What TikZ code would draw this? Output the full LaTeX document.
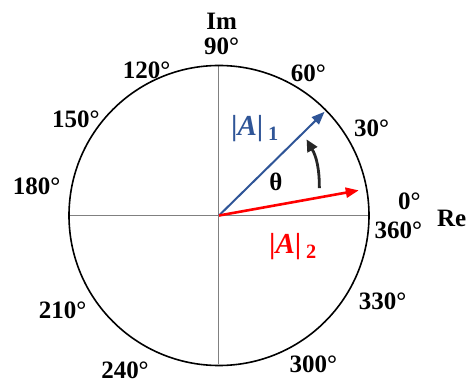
\documentclass[tikz,border=0pt]{standalone}
\usepackage{fontspec}
\setmainfont{Liberation Serif}
\usetikzlibrary{positioning,arrows.meta}
\definecolor{phasorblue}{RGB}{47,85,151}
\definecolor{axisgray}{RGB}{128,128,128}
\tikzset{deg/.style={font=\fontsize{25}{28}\selectfont\bfseries,inner sep=0pt},
mag/.style={font=\fontsize{29}{31}\selectfont\bfseries,inner sep=0pt},
axis/.style={draw=axisgray,line width=1pt},
arr/.style={-{Triangle[length=13pt,width=10pt]}}}

\begin{document}
\begin{tikzpicture}[x=1pt,y=1pt]
\useasboundingbox (-219,-169.5) rectangle (247,215.5);
\coordinate (O) at (0,0);
\coordinate (west) at (180:150);
\coordinate (east) at (0:150);
\coordinate (north) at (90:149);
\coordinate (south) at (270:149);
\draw[axis] (west) -- (east);
\draw[axis] (north) -- (south);
\draw[line width=1.6pt] (O) circle (150);
\coordinate (tip1) at (44.5:148);
\coordinate (tip2) at (10.2:142);
\coordinate (tstart) at (15.2:104);
\coordinate (tend) at (41:116);
\draw[arr,phasorblue,line width=2pt] (O) -- (tip1);
\draw[arr,red,line width=2.6pt] (O) -- (tip2);
\draw[-{Triangle[length=12pt,width=11pt]},black!85,line width=2.8pt] (tstart) to[bend right=15] (tend);
\node[deg] (theta) at (57,34) {θ};
\node[mag,text=phasorblue] (A1) at (36,87) {|\textit{A}|\,\textsubscript{1}};
\node[mag,text=red] (A2) at (74,-31) {|\textit{A}|\,\textsubscript{2}};
% angle labels
\node[deg] (im) at (2.7,193.8) {Im};
\node[deg] (re) at (232.7,-2.8) {Re};
\node[deg] (d90) at (2.7,168.8) {90°};
\node[deg] (d120) at (-72.3,145.5) {120°};
\node[deg] (d60) at (89.3,142.2) {60°};
\node[deg] (d150) at (-143,96.5) {150°};
\node[deg] (d30) at (152.7,87.2) {30°};
\node[deg] (d180) at (-182.3,28.8) {180°};
\node[deg] (d0) at (190.3,13.8) {0°};
\node[deg] (d360) at (179.3,-14.5) {360°};
\node[deg] (d210) at (-156.3,-94.5) {210°};
\node[deg] (d330) at (163.7,-86.2) {330°};
\node[deg] (d240) at (-94,-154.5) {240°};
\node[deg] (d300) at (94.3,-148.8) {300°};
\end{tikzpicture}
\end{document}
